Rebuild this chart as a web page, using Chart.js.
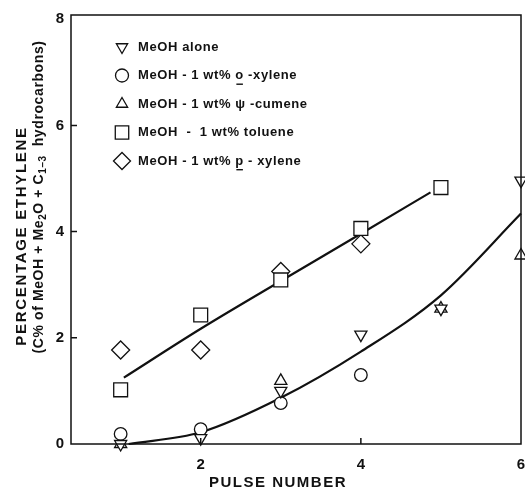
<!DOCTYPE html>
<html>
<head>
<meta charset="utf-8">
<script src="https://cdn.jsdelivr.net/npm/chart.js@4.4.0/dist/chart.umd.min.js"></script>
<style>
  html, body { margin: 0; padding: 0; background: #fff; }
  #wrap { width: 525px; height: 492px; }
</style>
</head>
<body>
<div id="wrap"><canvas id="chart" width="525" height="492"></canvas></div>
<script>
// values
const meohPulses = [1, 2, 3, 4, 5, 6];
const meohAlone = [0, 0.11, 1.0, 2.06, 2.55, 4.96];
const oXylenePulses = [1, 2, 3, 4];
const oXylene = [0.19, 0.28, 0.77, 1.30];
const cumenePulses = [1, 3, 5, 6];
const cumene = [0, 1.19, 2.55, 3.55];
const toluenePulses = [1, 2, 3, 4, 5];
const toluene = [1.02, 2.43, 3.09, 4.06, 4.83];
const pXylenePulses = [1, 2, 3, 4];
const pXylene = [1.77, 1.77, 3.25, 3.77];

// the two hand drawn trend curves
const upperCurveX = [1.04, 2, 3, 4, 4.87];
const upperCurveY = [1.25, 2.17, 3.07, 3.96, 4.74];
const lowerCurveX = [1.1, 2, 3, 4, 5, 6];
const lowerCurveY = [0, 0.22, 0.87, 1.74, 2.80, 4.34];

const xTicks = [2, 4, 6];
const yTicks = [0, 2, 4, 6, 8];

// legend text: [before, underlined, after]
const legendLabels = [
    ['MeOH alone', '', ''],
    ['MeOH - 1 wt% ', 'o', ' -xylene'],
    ['MeOH - 1 wt% \u03c8 -cumene', '', ''],
    ['MeOH  -  1 wt% toluene', '', ''],
    ['MeOH - 1 wt% ', 'p', ' - xylene']
];

const FONT = "'Liberation Sans', Arial, sans-serif";
const INK = '#111';

function pts(xs, ys) {
    return xs.map((v, i) => ({ x: v, y: ys[i] }));
}

const markers = [
    { style: 'triangle', rotation: 180, radius: 7 },
    { style: 'circle', rotation: 0, radius: 6.3 },
    { style: 'triangle', rotation: 0, radius: 7 },
    { style: 'rect', rotation: 0, radius: 9.8 },
    { style: 'rectRot', rotation: 0, radius: 9 }
];

function markerSet(label, data, m) {
    return {
        label: label,
        data: data,
        pointStyle: m.style,
        pointRotation: m.rotation,
        pointRadius: m.radius,
        pointBorderWidth: 1.3,
        pointBorderColor: INK,
        pointBackgroundColor: '#fff',
        showLine: false,
        clip: false
    };
}

function curveSet(data) {
    return {
        data: data,
        showLine: true,
        pointRadius: 0,
        borderColor: INK,
        borderWidth: 2.2,
        cubicInterpolationMode: 'monotone',
        clip: false
    };
}

// draw a row of text pieces; each piece {t, font, dy, u}
function drawPieces(ctx, pieces, x, y, align, spacing) {
    ctx.letterSpacing = (spacing || 0) + 'px';
    let total = 0;
    pieces.forEach(p => { ctx.font = p.font; p.w = ctx.measureText(p.t).width; total += p.w; });
    let cx = align === 'center' ? x - total / 2 : x;
    ctx.textAlign = 'left';
    ctx.textBaseline = 'middle';
    pieces.forEach(p => {
        ctx.font = p.font;
        ctx.fillText(p.t, cx, y + (p.dy || 0));
        if (p.u) {
            ctx.fillRect(cx + 1, y + 8, p.w - 2, 1.4);
        }
        cx += p.w;
    });
    ctx.letterSpacing = '0px';
}

const figurePlugin = {
    id: 'figure',
    afterDraw(chart) {
        const { ctx, chartArea: a, scales: { x, y } } = chart;
        ctx.save();
        ctx.strokeStyle = INK;
        ctx.fillStyle = INK;
        ctx.lineWidth = 1.5;
        ctx.strokeRect(a.left, a.top, a.right - a.left, a.bottom - a.top);

        // inward tick marks
        ctx.beginPath();
        [2, 4, 6].forEach(v => {
            const py = y.getPixelForValue(v);
            ctx.moveTo(a.left, py);
            ctx.lineTo(a.left + 6, py);
        });
        [2, 4].forEach(v => {
            const px = x.getPixelForValue(v);
            ctx.moveTo(px, a.bottom);
            ctx.lineTo(px, a.bottom - 6);
        });
        ctx.stroke();

        // legend inside the plot
        const lx = a.left + 51;
        legendLabels.forEach((lab, i) => {
            const ly = a.top + 32 + i * 28.5;
            const m = markers[i];
            ctx.fillStyle = '#fff';
            ctx.strokeStyle = INK;
            ctx.lineWidth = 1.3;
            Chart.helpers.drawPoint(ctx, {
                pointStyle: m.style, rotation: m.rotation,
                radius: m.style === 'rectRot' ? 8.5 : (m.style === 'rect' ? 9.5 : 6.5),
                borderWidth: 1.3
            }, lx, ly);
            ctx.fillStyle = INK;
            const f = 'bold 13px ' + FONT;
            drawPieces(ctx, [
                { t: lab[0], font: f },
                { t: lab[1], font: f, u: true },
                { t: lab[2], font: f }
            ].filter(p => p.t), lx + 16, ly, 'left', 0.6);
        });

        // x axis title
        ctx.fillStyle = INK;
        drawPieces(ctx, [{ t: 'PULSE NUMBER', font: 'bold 15px ' + FONT }], 278, 483, 'center', 1.5);

        // y axis title, two lines
        ctx.save();
        ctx.translate(22, 236);
        ctx.rotate(-Math.PI / 2);
        drawPieces(ctx, [{ t: 'PERCENTAGE ETHYLENE', font: 'bold 15px ' + FONT }], 0, 0, 'center', 1.7);
        ctx.restore();

        ctx.save();
        ctx.translate(39, 197);
        ctx.rotate(-Math.PI / 2);
        const big = 'bold 14px ' + FONT;
        const small = 'bold 10px ' + FONT;
        drawPieces(ctx, [
            { t: '(C% of MeOH + Me', font: big },
            { t: '2', font: small, dy: 4 },
            { t: 'O + C', font: big },
            { t: '1\u20133', font: small, dy: 4 },
            { t: '  hydrocarbons)', font: big }
        ], 0, 0, 'center', 0.6);
        ctx.restore();

        ctx.restore();
    }
};

const chart = new Chart(document.getElementById('chart'), {
    type: 'scatter',
    data: {
        datasets: [
            markerSet('MeOH alone', pts(meohPulses, meohAlone), markers[0]),
            markerSet('MeOH - 1 wt% o-xylene', pts(oXylenePulses, oXylene), markers[1]),
            markerSet('MeOH - 1 wt% \u03c8-cumene', pts(cumenePulses, cumene), markers[2]),
            markerSet('MeOH - 1 wt% toluene', pts(toluenePulses, toluene), markers[3]),
            markerSet('MeOH - 1 wt% p-xylene', pts(pXylenePulses, pXylene), markers[4]),
            curveSet(pts(upperCurveX, upperCurveY)),
            curveSet(pts(lowerCurveX, lowerCurveY))
        ]
    },
    options: {
        responsive: false,
        animation: false,
        events: [],
        layout: { autoPadding: false, padding: { top: 15, right: 4, left: 0, bottom: 0 } },
        plugins: { legend: { display: false }, tooltip: { enabled: false } },
        scales: {
            x: {
                type: 'linear',
                min: 0.38,
                max: 6,
                afterBuildTicks: s => { s.ticks = xTicks.map(v => ({ value: v })); },
                afterFit: s => { s.height = 48; s.paddingLeft = 0; s.paddingRight = 0; },
                grid: { display: false, drawTicks: false },
                border: { display: false },
                ticks: { color: INK, padding: 12, font: { family: FONT, size: 15, weight: 'bold' } }
            },
            y: {
                type: 'linear',
                min: 0,
                max: 8.08,
                afterBuildTicks: s => { s.ticks = yTicks.map(v => ({ value: v })); },
                afterFit: s => { s.width = 71; s.paddingTop = 0; s.paddingBottom = 0; },
                grid: { display: false, drawTicks: false },
                border: { display: false },
                ticks: { color: INK, padding: 7, font: { family: FONT, size: 15, weight: 'bold' } }
            }
        }
    },
    plugins: [figurePlugin]
});
</script>
</body>
</html>
